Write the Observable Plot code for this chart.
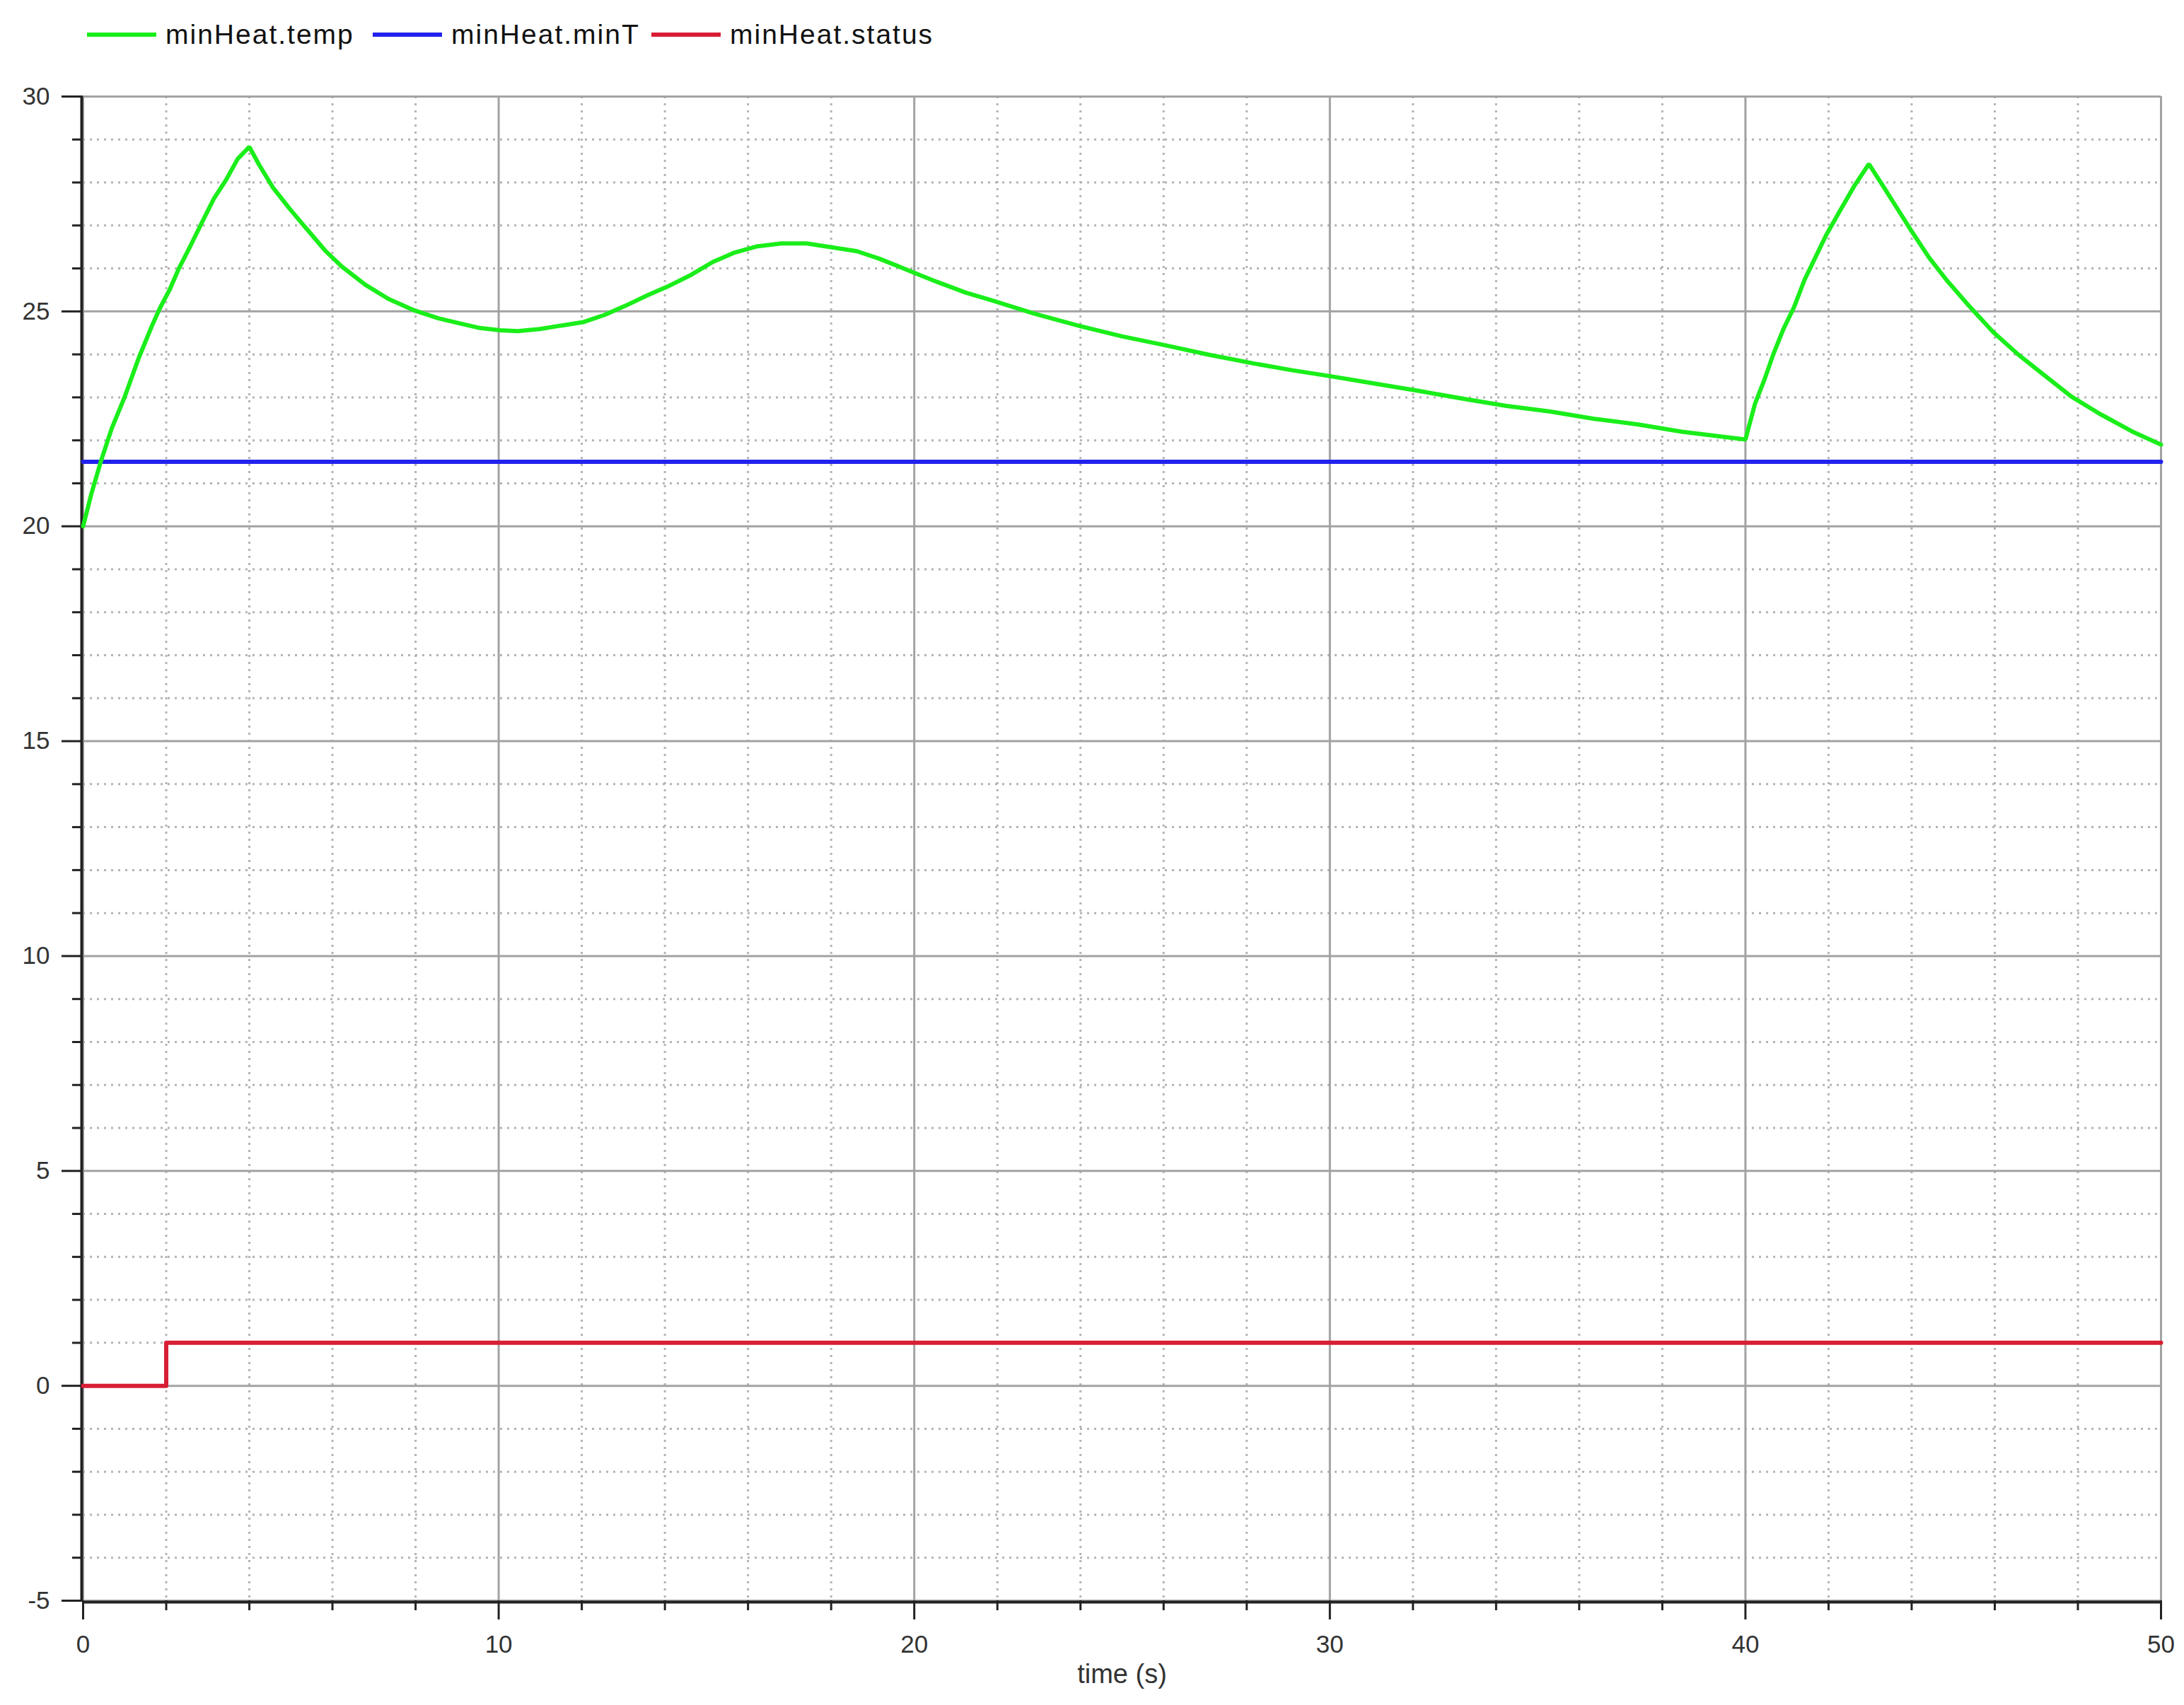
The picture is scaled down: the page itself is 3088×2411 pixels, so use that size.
<!DOCTYPE html>
<html>
<head>
<meta charset="utf-8">
<script src="https://cdn.jsdelivr.net/npm/d3@7"></script>
<script src="https://cdn.jsdelivr.net/npm/@observablehq/plot@0.6"></script>
<style>
  html, body { margin: 0; padding: 0; background: #ffffff; overflow: hidden; }
  #legend { position: relative; width: 3088px; height: 90px; font-family: "Liberation Sans", Arial, sans-serif; font-size: 39px; letter-spacing: 2px; color: #111; }
  #legend .item { position: absolute; top: 4px; height: 90px; display: flex; align-items: center; }
  #legend .swatch { display: inline-block; width: 98px; height: 6px; margin-right: 13px; }
  #chart svg { display: block; }
</style>
</head>
<body>
<div id="legend"></div>
<div id="chart"></div>
<script>
// ---- data ----
const seriesNames = ["minHeat.temp", "minHeat.minT", "minHeat.status"];
const seriesColors = ["#1aee1a", "#2222ee", "#d81e35"];

const tempTime = [0, 0.2, 0.43, 0.69, 1.0, 1.34, 1.65, 1.85, 2.08, 2.3, 2.59, 2.87, 3.15, 3.44, 3.72, 4.0,
  4.23, 4.57, 4.97, 5.37, 5.82, 6.22, 6.79, 7.35, 7.98, 8.55, 9.07, 9.51, 10.03, 10.46, 10.99, 11.5,
  12.03, 12.55, 13.07, 13.59, 14.11, 14.63, 15.15, 15.68, 16.2, 16.8, 17.41, 18.02, 18.62, 19.15, 20.0,
  20.54, 21.23, 21.82, 22.88, 23.94, 25.0, 26.05, 27.1, 28.16, 29.1, 30.03, 31.09, 32.14, 33.2, 34.25,
  35.31, 36.36, 37.42, 38.47, 39.41, 40.0, 40.23, 40.46, 40.67, 40.91, 41.17, 41.42, 41.68, 41.94, 42.28,
  42.62, 42.97, 43.31, 43.65, 43.99, 44.42, 44.84, 45.36, 45.96, 46.56, 47.16, 47.84, 48.52, 49.3, 50.0];
const tempValue = [20.0, 20.76, 21.52, 22.28, 23.01, 23.92, 24.65, 25.08, 25.5, 25.99, 26.54, 27.09, 27.63, 28.06, 28.55, 28.83,
  28.42, 27.88, 27.39, 26.93, 26.42, 26.05, 25.62, 25.29, 25.02, 24.84, 24.72, 24.62, 24.56, 24.54, 24.59, 24.67,
  24.75, 24.92, 25.14, 25.38, 25.6, 25.85, 26.15, 26.37, 26.51, 26.58, 26.58, 26.49, 26.4, 26.23, 25.9,
  25.69, 25.44, 25.27, 24.95, 24.67, 24.42, 24.21, 23.99, 23.79, 23.63, 23.49, 23.32, 23.15, 22.97, 22.8,
  22.67, 22.5, 22.37, 22.2, 22.09, 22.02, 22.85, 23.42, 24.0, 24.58, 25.1, 25.73, 26.25, 26.77, 27.35,
  27.92, 28.43, 27.92, 27.4, 26.88, 26.25, 25.73, 25.15, 24.52, 24.0, 23.54, 23.02, 22.62, 22.21, 21.9];

const minTTime = [0, 50];
const minTValue = [21.5, 21.5];

const statusTime = [0, 2, 50];
const statusValue = [0, 1, 1];

const xMajorTicks = [0, 10, 20, 30, 40, 50];
const xMinorTicks = [2, 4, 6, 8, 12, 14, 16, 18, 22, 24, 26, 28, 32, 34, 36, 38, 42, 44, 46, 48];
const yMajorTicks = [-5, 0, 5, 10, 15, 20, 25, 30];
const yMinorTicks = [-4, -3, -2, -1, 1, 2, 3, 4, 6, 7, 8, 9, 11, 12, 13, 14, 16, 17, 18, 19, 21, 22, 23, 24, 26, 27, 28, 29];
const xLabel = "time (s)";

// ---- tables ----
const temp = tempTime.map((t, i) => ({t, v: tempValue[i]}));
const minT = minTTime.map((t, i) => ({t, v: minTValue[i]}));
const status = statusTime.map((t, i) => ({t, v: statusValue[i]}));

// ---- legend ----
const legend = document.getElementById("legend");
const legendLeft = [123, 527, 921];
seriesNames.forEach((name, i) => {
  const item = document.createElement("div");
  item.className = "item";
  item.style.left = legendLeft[i] + "px";
  const sw = document.createElement("span");
  sw.className = "swatch";
  sw.style.background = seriesColors[i];
  const label = document.createElement("span");
  label.textContent = name;
  item.appendChild(sw);
  item.appendChild(label);
  legend.appendChild(item);
});

// ---- chart ----
const font = "'Liberation Sans', Arial, sans-serif";
const chart = Plot.plot({
  width: 3088,
  height: 2321,
  marginTop: 46,
  marginLeft: 117,
  marginRight: 33,
  marginBottom: 148,
  style: {fontFamily: font, fontSize: "35px", background: "#ffffff", color: "#222"},
  x: {domain: [0, 50]},
  y: {domain: [-5, 30]},
  marks: [
    Plot.gridX(xMinorTicks, {stroke: "#b4b4b4", strokeOpacity: 1, strokeWidth: 3, strokeDasharray: "3,7"}),
    Plot.gridY(yMinorTicks, {stroke: "#b4b4b4", strokeOpacity: 1, strokeWidth: 3, strokeDasharray: "3,7"}),
    Plot.gridX(xMajorTicks, {stroke: "#a2a2a2", strokeOpacity: 1, strokeWidth: 3}),
    Plot.gridY(yMajorTicks, {stroke: "#a2a2a2", strokeOpacity: 1, strokeWidth: 3}),
    Plot.ruleX([0], {stroke: "#222", strokeWidth: 4, dx: -2}),
    Plot.ruleY([-5], {stroke: "#222", strokeWidth: 4, dy: 2}),
    Plot.axisY(yMajorTicks, {tickSize: 30, tickPadding: 17, strokeWidth: 3, stroke: "#222", fill: "#333",
      fontSize: 35, tickFormat: d => String(d), label: null}),
    Plot.axisY(yMinorTicks, {tickSize: 15, strokeWidth: 3, stroke: "#222", tickFormat: () => "", label: null}),
    Plot.axisX(xMajorTicks, {tickSize: 27, tickPadding: 22, strokeWidth: 3, stroke: "#222", fill: "#333",
      fontSize: 35, tickFormat: d => String(d), label: null}),
    Plot.axisX(xMinorTicks, {tickSize: 14, strokeWidth: 3, stroke: "#222", tickFormat: () => "", label: null}),
    Plot.text([xLabel], {frameAnchor: "bottom", dy: 116, fontSize: 38, fill: "#333", text: d => d}),
    Plot.line(minT, {x: "t", y: "v", stroke: seriesColors[1], strokeWidth: 6}),
    Plot.line(status, {x: "t", y: "v", stroke: seriesColors[2], strokeWidth: 6, curve: "step-after"}),
    Plot.line(temp, {x: "t", y: "v", stroke: seriesColors[0], strokeWidth: 6, strokeLinejoin: "miter"})
  ]
});
document.getElementById("chart").appendChild(chart);
</script>
</body>
</html>
